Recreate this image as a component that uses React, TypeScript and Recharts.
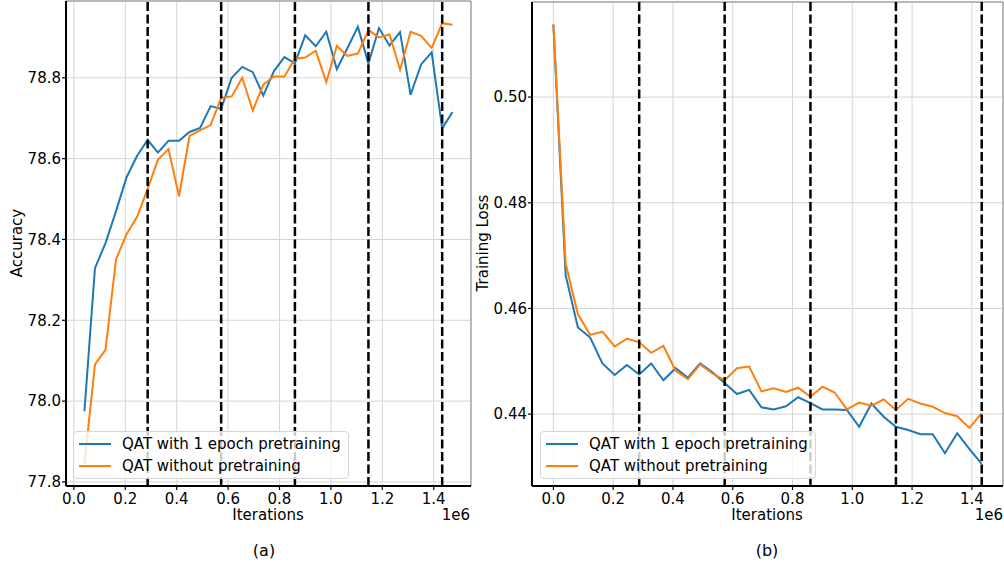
import React from "react";
import {
  LineChart,
  Line,
  XAxis,
  YAxis,
  CartesianGrid,
  ReferenceLine,
} from "recharts";

// iterations in units of 1e6
const ITER_ACC = [
  0.041, 0.082, 0.123, 0.164, 0.205, 0.246, 0.287, 0.327, 0.368, 0.409, 0.45,
  0.491, 0.532, 0.573, 0.614, 0.655, 0.696, 0.737, 0.778, 0.819, 0.86, 0.9,
  0.941, 0.982, 1.023, 1.064, 1.105, 1.146, 1.187, 1.228, 1.269, 1.31, 1.351,
  1.392, 1.433, 1.473,
];
const ACC_PRETRAIN = [
  77.975, 78.329, 78.391, 78.47, 78.554, 78.607, 78.646, 78.615, 78.644,
  78.644, 78.666, 78.676, 78.73, 78.723, 78.8, 78.827, 78.814, 78.756, 78.816,
  78.851, 78.836, 78.905, 78.878, 78.914, 78.821, 78.873, 78.926, 78.835,
  78.923, 78.88, 78.913, 78.758, 78.833, 78.863, 78.675, 78.715,
];
const ACC_NO_PRETRAIN = [
  77.845, 78.091, 78.127, 78.351, 78.413, 78.456, 78.525, 78.597, 78.624,
  78.507, 78.656, 78.67, 78.683, 78.75, 78.754, 78.8, 78.719, 78.783, 78.803,
  78.803, 78.847, 78.85, 78.867, 78.789, 78.879, 78.854, 78.86, 78.918, 78.9,
  78.907, 78.82, 78.914, 78.904, 78.874, 78.935, 78.931,
];

const ITER_LOSS = [
  0, 0.041, 0.082, 0.123, 0.164, 0.205, 0.246, 0.287, 0.327, 0.368, 0.409,
  0.45, 0.491, 0.532, 0.573, 0.614, 0.655, 0.696, 0.737, 0.778, 0.819, 0.86,
  0.9, 0.941, 0.982, 1.023, 1.064, 1.105, 1.146, 1.187, 1.228, 1.269, 1.31,
  1.351, 1.392, 1.433,
];
const LOSS_PRETRAIN = [
  0.5137, 0.4663, 0.4564, 0.4545, 0.4496, 0.4474, 0.4493, 0.4475, 0.4496,
  0.4464, 0.4487, 0.4469, 0.4496, 0.4479, 0.4459, 0.4438, 0.4446, 0.4413,
  0.4409, 0.4415, 0.4432, 0.4421, 0.4409, 0.4409, 0.4408, 0.4376, 0.442,
  0.4395, 0.4376, 0.437, 0.4362, 0.4362, 0.4326, 0.4364, 0.4334, 0.4306,
];
const LOSS_NO_PRETRAIN = [
  0.5138, 0.4685, 0.4589, 0.455, 0.4556, 0.4528, 0.4543, 0.4536, 0.4516,
  0.4529, 0.4482, 0.4466, 0.4494, 0.4477, 0.4464, 0.4487, 0.449, 0.4443,
  0.4449, 0.4442, 0.445, 0.4433, 0.4452, 0.4441, 0.4409, 0.4422, 0.4416,
  0.4428, 0.4408, 0.4429, 0.442, 0.4414, 0.4402, 0.4396, 0.4374, 0.4402,
];

const EPOCH_ENDS = [0.287, 0.573, 0.86, 1.146, 1.433];
const X_TICKS = [0, 0.2, 0.4, 0.6, 0.8, 1.0, 1.2, 1.4];
const ACC_TICKS = [77.8, 78.0, 78.2, 78.4, 78.6, 78.8];
const LOSS_TICKS = [0.44, 0.46, 0.48, 0.5];

const SERIES_NAMES = ["QAT with 1 epoch pretraining", "QAT without pretraining"];
const BLUE = "#1f77b4";
const ORANGE = "#ff7f0e";
const FONT = "'DejaVu Sans', sans-serif";

const accData = ITER_ACC.map((x, i) => ({
  x,
  pre: ACC_PRETRAIN[i],
  nopre: ACC_NO_PRETRAIN[i],
}));
const lossData = ITER_LOSS.map((x, i) => ({
  x,
  pre: LOSS_PRETRAIN[i],
  nopre: LOSS_NO_PRETRAIN[i],
}));

const tickStyle = { fontSize: 15, fill: "#000", fontFamily: FONT };

function Text({
  x,
  y,
  children,
  rotate = false,
  align = "center",
  size = 15,
}: {
  x: number;
  y: number;
  children: React.ReactNode;
  rotate?: boolean;
  align?: "center" | "right";
  size?: number;
}) {
  const tx = align === "right" ? "-100%" : "-50%";
  return (
    <div
      style={{
        position: "absolute",
        left: x,
        top: y,
        transform: `translate(${tx}, -50%)${rotate ? " rotate(-90deg)" : ""}`,
        fontSize: size,
        fontFamily: FONT,
        lineHeight: 0.8,
        whiteSpace: "nowrap",
        color: "#000",
      }}
    >
      {children}
    </div>
  );
}

function LegendBox({ left }: { left: number }) {
  return (
    <div
      style={{
        position: "absolute",
        left,
        top: 431,
        width: 274,
        height: 46,
        background: "rgba(255,255,255,0.8)",
        border: "1px solid #d6d6d6",
        borderRadius: 4,
        fontFamily: FONT,
        fontSize: 15,
      }}
    >
      {SERIES_NAMES.map((name, i) => (
        <div
          key={name}
          style={{
            position: "absolute",
            left: 5,
            top: 12 + i * 22,
            display: "flex",
            alignItems: "center",
            height: 0,
            whiteSpace: "nowrap",
          }}
        >
          <span
            style={{
              display: "inline-block",
              width: 32,
              height: 2,
              background: i === 0 ? BLUE : ORANGE,
              marginRight: 11,
            }}
          />
          <span>{name}</span>
        </div>
      ))}
    </div>
  );
}

function Panel({
  data,
  width,
  margin,
  xDomain,
  yDomain,
  yTicks,
  yDigits,
  yAxisWidth,
}: {
  data: { x: number; pre: number; nopre: number }[];
  width: number;
  margin: { top: number; right: number; bottom: number; left: number };
  xDomain: [number, number];
  yDomain: [number, number];
  yTicks: number[];
  yDigits: number;
  yAxisWidth: number;
}) {
  return (
    <LineChart width={width} height={565} data={data} margin={margin}>
      <CartesianGrid stroke="#d5d5d5" strokeWidth={1} />
      <XAxis
        type="number"
        dataKey="x"
        domain={xDomain}
        allowDataOverflow
        ticks={X_TICKS}
        tickFormatter={(v: number) => v.toFixed(1)}
        tick={tickStyle}
        tickSize={4}
        tickMargin={3}
        axisLine={{ stroke: "#000", strokeWidth: 2 }}
        tickLine={{ stroke: "#000", strokeWidth: 1.2 }}
        height={30}
      />
      <YAxis
        type="number"
        domain={yDomain}
        allowDataOverflow
        ticks={yTicks}
        tickFormatter={(v: number) => v.toFixed(yDigits)}
        tick={tickStyle}
        tickSize={4}
        tickMargin={1}
        width={yAxisWidth}
        axisLine={{ stroke: "#000", strokeWidth: 2 }}
        tickLine={{ stroke: "#000", strokeWidth: 1.2 }}
      />
      <ReferenceLine y={yDomain[1]} stroke="#888" strokeWidth={1} />
      <ReferenceLine x={xDomain[1]} stroke="#888" strokeWidth={1} />
      <Line
        type="linear"
        dataKey="pre"
        stroke={BLUE}
        strokeWidth={2}
        dot={false}
        isAnimationActive={false}
      />
      <Line
        type="linear"
        dataKey="nopre"
        stroke={ORANGE}
        strokeWidth={2}
        dot={false}
        isAnimationActive={false}
      />
      {EPOCH_ENDS.map((e) => (
        <ReferenceLine
          key={e}
          x={e}
          stroke="#000"
          strokeWidth={2.5}
          strokeDasharray="9 3.5"
        />
      ))}
    </LineChart>
  );
}

export default function App() {
  return (
    <div
      style={{
        position: "absolute",
        left: 0,
        top: 0,
        width: 1004,
        height: 565,
        background: "#fff",
        overflow: "hidden",
      }}
    >
      <div style={{ position: "absolute", left: 0, top: 0 }}>
        <Panel
          data={accData}
          width={480}
          margin={{ top: 1, right: 9, bottom: 49, left: 10 }}
          xDomain={[-0.0307, 1.5451]}
          yDomain={[77.79, 78.99]}
          yTicks={ACC_TICKS}
          yDigits={1}
          yAxisWidth={56}
        />
      </div>
      <div style={{ position: "absolute", left: 470, top: 0 }}>
        <Panel
          data={lossData}
          width={534}
          margin={{ top: 2, right: 1, bottom: 49, left: 10 }}
          xDomain={[-0.0716, 1.5042]}
          yDomain={[0.4264, 0.518]}
          yTicks={LOSS_TICKS}
          yDigits={2}
          yAxisWidth={52}
        />
      </div>

      <LegendBox left={73} />
      <LegendBox left={540} />

      <Text x={17} y={243} rotate>
        Accuracy
      </Text>
      <Text x={483} y={243} rotate>
        Training Loss
      </Text>
      <Text x={268} y={515}>
        Iterations
      </Text>
      <Text x={767} y={515}>
        Iterations
      </Text>
      <Text x={470} y={515} align="right">
        1e6
      </Text>
      <Text x={1003} y={515} align="right">
        1e6
      </Text>
      <Text x={264} y={551} size={16}>
        (a)
      </Text>
      <Text x={767} y={551} size={16}>
        (b)
      </Text>
    </div>
  );
}
